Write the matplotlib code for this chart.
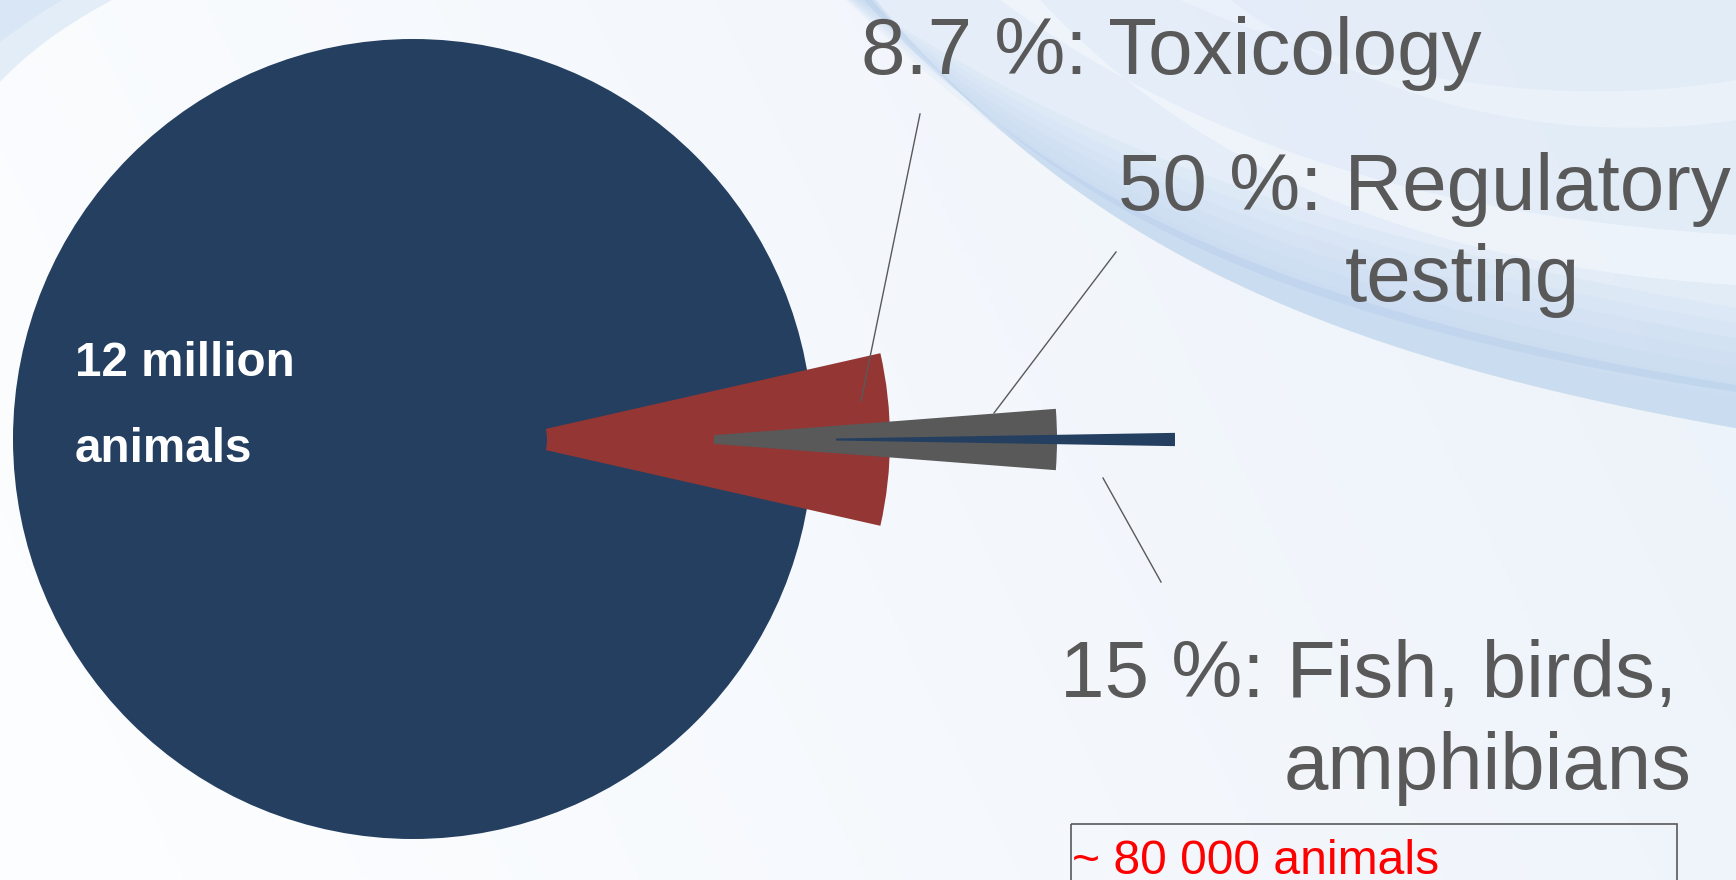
import numpy as np
import matplotlib
matplotlib.use("Agg")
import matplotlib.pyplot as plt
from matplotlib.patches import Wedge, Circle, Rectangle, Polygon
from matplotlib.colors import to_rgb

# ---------------- data ----------------
total_lines = ["12 million", "animals"]
categories = ["Toxicology", "Regulatory testing", "Fish, birds, amphibians"]
percent = [8.7, 50, 15]
label_lines = [
    [f"{percent[0]:g} %: Toxicology"],
    [f"{percent[1]:g} %: Regulatory", "testing"],
    [f"{percent[2]:g} %: Fish, birds,", "amphibians"],
]
highlight = "~ 80 000 animals"

# ---------------- layout / style ----------------
W, H = 1736, 880
NAVY = "#243f60"
RED = "#943634"
GRAY = "#595959"
wedge_colors = [RED, GRAY, NAVY]
pie_center = (413, 439)
pie_radius = 400
wedge_cx = [499, 657, 774]
wedge_r = [391, 400, 401]
wedge_inner = [48, 57, 62]
wedge_sweep = [25.5, 8.8, 1.9]   # drawn opening angles (deg) as in the picture
cy = 439.5

fig = plt.figure(figsize=(W / 100, H / 100), dpi=100)
ax = fig.add_axes([0, 0, 1, 1])
ax.set_xlim(0, W)
ax.set_ylim(H, 0)
ax.axis("off")

# background gradient
xs = np.linspace(0, 1, 400)[None, :]
ys = np.linspace(0, 1, 200)[:, None]
c0 = np.array(to_rgb("#fdfeff"))
c1 = np.array(to_rgb("#ecf2fa"))
t = np.clip(0.8 * xs + 0.2 * (1 - ys), 0, 1)[..., None]
img = c0 * (1 - t) + c1 * t
ax.imshow(img, extent=[0, W, H, 0], zorder=0, aspect="auto")


def bez(P, n=240):
    P = np.asarray(P, float)
    tt = np.linspace(0, 1, n)[:, None]
    return ((1 - tt) ** 3 * P[0] + 3 * (1 - tt) ** 2 * tt * P[1]
            + 3 * (1 - tt) * tt ** 2 * P[2] + tt ** 3 * P[3])


def band(upper, lower, color, alpha):
    """upper and lower both given from the top-left end to the right end."""
    u = bez(upper)
    l = bez(lower)[::-1]
    ax.add_patch(Polygon(np.vstack([u, l]), closed=True, facecolor=color,
                         edgecolor="none", alpha=alpha, zorder=1))


def region_above(curve, color, alpha):
    c = bez(curve)
    pts = np.vstack([c, [[W + 5, -5], [c[0, 0], -5]]])
    ax.add_patch(Polygon(pts, closed=True, facecolor=color, edgecolor="none",
                         alpha=alpha, zorder=1))


# lower boundary of the swoosh
L = [(872, 0), (1060, 215), (1260, 345), (W, 428)]
region_above(L, "#dce8f6", 0.6)
# layered band right above the boundary -> soft gradient
for k in range(7):
    off = 120 - 15 * k
    U = [(858 - 2 * k, 0), (1045, 215 - off * 0.8), (1250, 345 - off), (W, 428 - off)]
    band(U, L, "#c2d8f0", 0.16)
# whiter streaks higher up
band([(1000, 0), (1180, 130), (1400, 215), (W, 235)],
     [(1040, 0), (1200, 170), (1420, 265), (W, 285)], "#f6f9fd", 0.6)
band([(1180, 0), (1360, 80), (1560, 110), (W, 80)],
     [(1230, 0), (1380, 110), (1570, 145), (W, 120)], "#f3f7fc", 0.5)
# thin darker streak along the boundary
band([(864, 0), (1000, 150), (1200, 300), (W, 385)],
     [(876, 0), (1008, 162), (1205, 313), (W, 392)], "#a9c6e8", 0.3)
# top-left corner
ax.add_patch(Polygon(np.vstack([bez([(0, 82), (35, 45), (75, 20), (112, 0)]),
                                [[0, 0]]]), closed=True, facecolor="#e3edf8",
                     edgecolor="none", zorder=1))
ax.add_patch(Polygon(np.vstack([bez([(0, 42), (20, 27), (42, 12), (62, 0)]),
                                [[0, 0]]]), closed=True, facecolor="#d9e6f6",
                     edgecolor="none", zorder=1))

# big pie
ax.add_patch(Circle(pie_center, pie_radius, facecolor=NAVY, edgecolor="none", zorder=3))

# nested wedges
for i in range(3):
    half = wedge_sweep[i] / 2
    ax.add_patch(Wedge((wedge_cx[i], cy), wedge_r[i], -half, half,
                       width=wedge_r[i] - wedge_inner[i],
                       facecolor=wedge_colors[i], edgecolor="none", zorder=4 + i))

# leader lines
ax.plot([920, 861], [114, 401], color=GRAY, lw=1.0, zorder=8)
ax.plot([1116, 994], [252, 413], color=GRAY, lw=1.0, zorder=8)
ax.plot([1103, 1161], [478, 582], color=GRAY, lw=1.0, zorder=8)

FONT = ["Liberation Sans", "DejaVu Sans"]
LBL = 57.5

ax.text(861, 74, label_lines[0][0], fontsize=LBL, family=FONT, color=GRAY,
        ha="left", va="baseline", zorder=9)
ax.text(1118, 210, label_lines[1][0], fontsize=LBL, family=FONT, color=GRAY,
        ha="left", va="baseline", zorder=9)
ax.text(1345, 301, label_lines[1][1], fontsize=LBL, family=FONT, color=GRAY,
        ha="left", va="baseline", zorder=9)
ax.text(1060, 697, label_lines[2][0], fontsize=LBL, family=FONT, color=GRAY,
        ha="left", va="baseline", zorder=9)
ax.text(1284, 789, label_lines[2][1], fontsize=LBL, family=FONT, color=GRAY,
        ha="left", va="baseline", zorder=9)

ax.text(75, 376, total_lines[0], fontsize=34.3, family=FONT, color="white",
        fontweight="bold", ha="left", va="baseline", zorder=9)
ax.text(75, 462, total_lines[1], fontsize=34.3, family=FONT, color="white",
        fontweight="bold", ha="left", va="baseline", zorder=9)

# highlight box
ax.add_patch(Rectangle((1071, 824), 606, 100, fill=False, edgecolor=GRAY,
                       lw=1.2, zorder=9))
ax.text(1072, 874, highlight, fontsize=34.6, family=FONT, color="#ff0000",
        ha="left", va="baseline", zorder=10)

fig.savefig("out.png", dpi=100)
